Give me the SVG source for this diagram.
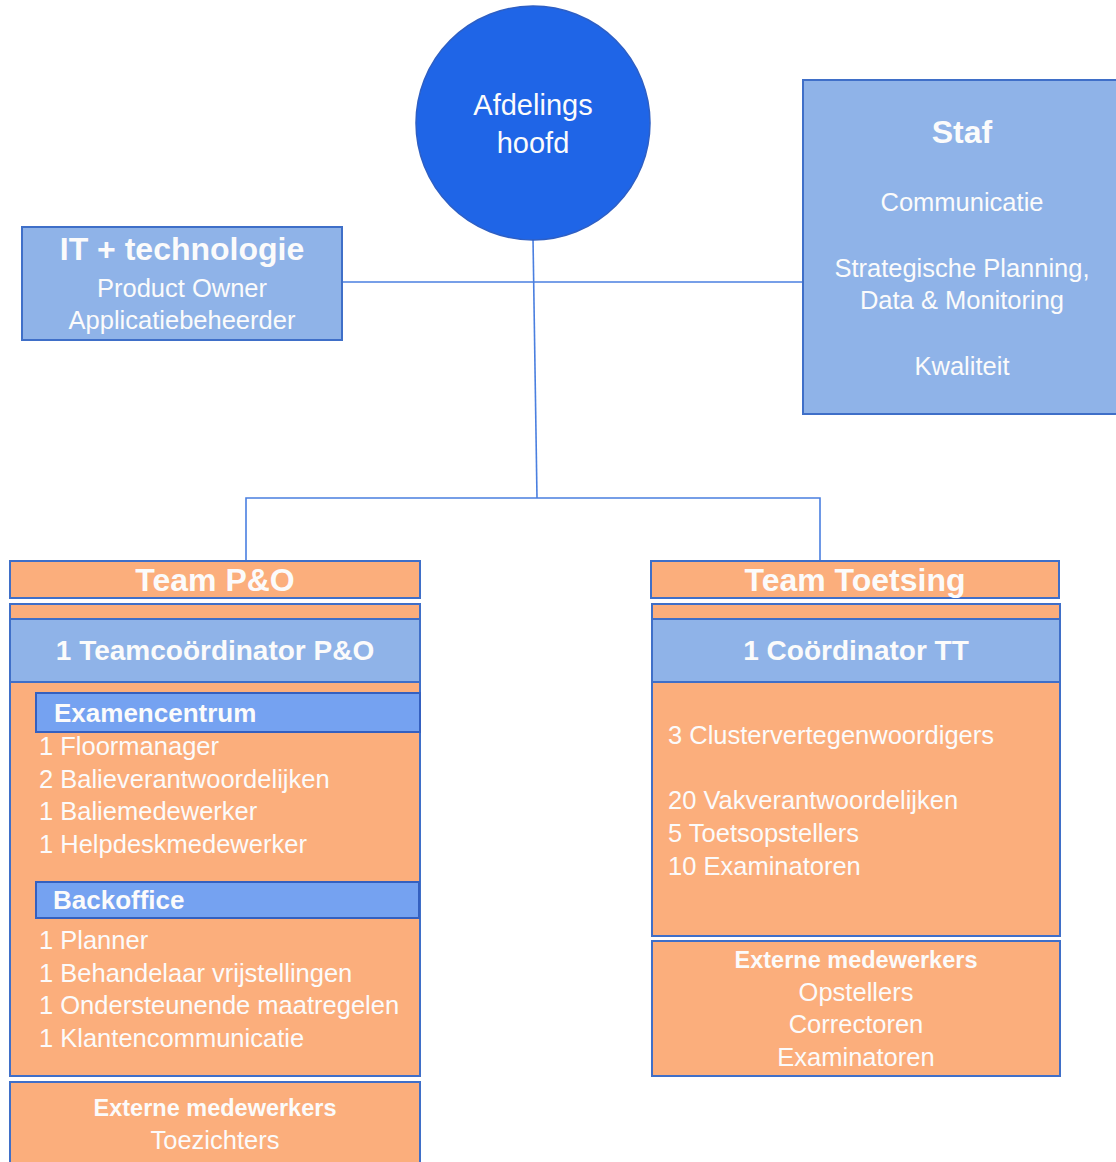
<svg xmlns="http://www.w3.org/2000/svg" width="1116" height="1162" viewBox="0 0 1116 1162">
<style>
.t{font-family:"Liberation Sans",Arial,sans-serif;fill:#fbfbfb}
.b{font-weight:bold}
.c{text-anchor:middle}
.lb{fill:#8fb3e8;stroke:#3f6fc8;stroke-width:2}
.or{fill:#fbae7c;stroke:#3f6fc8;stroke-width:2}
.bb{fill:#75a2f1;stroke:#3460c0;stroke-width:2}
.ln{fill:none;stroke:#4a7fe0;stroke-width:1.6}
</style>
<rect width="1116" height="1162" fill="#ffffff"/>
<g id="connectors">
<line class="ln" x1="342" y1="282" x2="803" y2="282"/>
<line class="ln" x1="533" y1="238" x2="537" y2="498"/>
<polyline class="ln" points="246,561 246,498 820,498 820,561"/>
</g>
<g id="afdelingshoofd">
<circle cx="533" cy="123" r="117" fill="#1f65e7" stroke="#2e5fc4" stroke-width="1.5"/>
<text class="t c" x="533" y="115" font-size="29">Afdelings</text>
<text class="t c" x="533" y="153" font-size="29">hoofd</text>
</g>
<g id="it">
<rect class="lb" x="22" y="227" width="320" height="113"/>
<text class="t b c" x="182" y="260" font-size="32">IT + technologie</text>
<text class="t c" x="182" y="297" font-size="25.5">Product Owner</text>
<text class="t c" x="182" y="329" font-size="25.5">Applicatiebeheerder</text>
</g>
<g id="staf">
<rect class="lb" x="803" y="80" width="320" height="334"/>
<text class="t b c" x="962" y="143" font-size="32">Staf</text>
<text class="t c" x="962" y="211" font-size="25.5">Communicatie</text>
<text class="t c" x="962" y="277" font-size="25.5">Strategische Planning,</text>
<text class="t c" x="962" y="309" font-size="25.5">Data &amp; Monitoring</text>
<text class="t c" x="962" y="375" font-size="25.5">Kwaliteit</text>
</g>
<g id="team-po">
<rect class="or" x="10" y="561" width="410" height="37"/>
<text class="t b c" x="215" y="591" font-size="32">Team P&amp;O</text>
</g>
<g id="team-po-body">
<rect class="or" x="10" y="604" width="410" height="472"/>
<rect class="lb" x="10" y="619" width="410" height="63"/>
<text class="t b c" x="215" y="660" font-size="28">1 Teamcoördinator P&amp;O</text>
<rect class="bb" x="36" y="693" width="384" height="39"/>
<text class="t b" x="54" y="722" font-size="26">Examencentrum</text>
<text class="t" x="39" y="755" font-size="25.5">1 Floormanager</text>
<text class="t" x="39" y="788" font-size="25.5">2 Balieverantwoordelijken</text>
<text class="t" x="39" y="820" font-size="25.5">1 Baliemedewerker</text>
<text class="t" x="39" y="853" font-size="25.5">1 Helpdeskmedewerker</text>
<rect class="bb" x="36" y="882" width="383" height="36"/>
<text class="t b" x="53" y="909" font-size="26">Backoffice</text>
<text class="t" x="39" y="949" font-size="25.5">1 Planner</text>
<text class="t" x="39" y="982" font-size="25.5">1 Behandelaar vrijstellingen</text>
<text class="t" x="39" y="1014" font-size="25.5">1 Ondersteunende maatregelen</text>
<text class="t" x="39" y="1047" font-size="25.5">1 Klantencommunicatie</text>
</g>
<g id="po-extern">
<rect class="or" x="10" y="1082" width="410" height="90"/>
<text class="t b c" x="215" y="1116" font-size="23.5">Externe medewerkers</text>
<text class="t c" x="215" y="1149" font-size="25.5">Toezichters</text>
</g>
<g id="team-toetsing">
<rect class="or" x="651" y="561" width="408" height="37"/>
<text class="t b c" x="855" y="591" font-size="32">Team Toetsing</text>
</g>
<g id="team-toetsing-body">
<rect class="or" x="652" y="604" width="408" height="332"/>
<rect class="lb" x="652" y="619" width="408" height="63"/>
<text class="t b c" x="856" y="660" font-size="28">1 Coördinator TT</text>
<text class="t" x="668" y="744" font-size="25.5">3 Clustervertegenwoordigers</text>
<text class="t" x="668" y="809" font-size="25.5">20 Vakverantwoordelijken</text>
<text class="t" x="668" y="842" font-size="25.5">5 Toetsopstellers</text>
<text class="t" x="668" y="875" font-size="25.5">10 Examinatoren</text>
</g>
<g id="tt-extern">
<rect class="or" x="652" y="941" width="408" height="135"/>
<text class="t b c" x="856" y="968" font-size="23.5">Externe medewerkers</text>
<text class="t c" x="856" y="1001" font-size="25.5">Opstellers</text>
<text class="t c" x="856" y="1033" font-size="25.5">Correctoren</text>
<text class="t c" x="856" y="1066" font-size="25.5">Examinatoren</text>
</g>
</svg>
